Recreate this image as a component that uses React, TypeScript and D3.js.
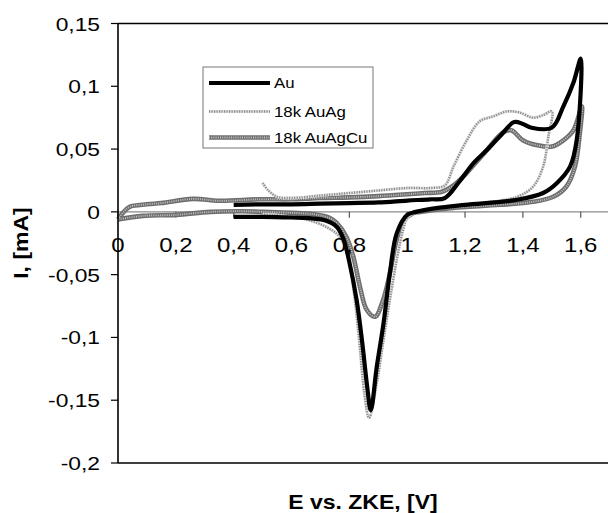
import React from "react";
import * as d3 from "d3";

// ---- data (E in V, I in mA), in scan order ----
const auScan: [number, number][] = [
  [0.40, 0.0055], [0.50, 0.006], [0.60, 0.006], [0.70, 0.0065], [0.80, 0.007], [0.90, 0.0075],
  [1.00, 0.009], [1.08, 0.010], [1.13, 0.011], [1.18, 0.024], [1.23, 0.039], [1.27, 0.048],
  [1.32, 0.060], [1.37, 0.0715], [1.40, 0.070], [1.43, 0.067], [1.50, 0.067], [1.54, 0.084],
  [1.575, 0.103], [1.60, 0.122],
  [1.586, 0.057], [1.563, 0.036], [1.518, 0.023], [1.47, 0.015], [1.38, 0.0096], [1.2, 0.0056],
  [1.1, 0.003], [1.03, 0.0], [1.0, -0.0024], [0.964, -0.017], [0.94, -0.049], [0.918, -0.089],
  [0.895, -0.123], [0.874, -0.158], [0.862, -0.14], [0.845, -0.105], [0.825, -0.07], [0.80, -0.04],
  [0.78, -0.022], [0.757, -0.012], [0.72, -0.007], [0.66, -0.005], [0.60, -0.0045], [0.5, -0.004],
  [0.4, -0.004],
];

const auAgScan: [number, number][] = [
  [0.50, 0.023], [0.52, 0.017], [0.55, 0.012], [0.60, 0.011], [0.70, 0.013], [0.80, 0.015],
  [0.90, 0.017], [1.00, 0.019], [1.08, 0.019], [1.13, 0.021], [1.16, 0.036], [1.206, 0.057],
  [1.25, 0.072], [1.297, 0.076], [1.345, 0.080], [1.39, 0.079], [1.435, 0.075], [1.47, 0.077],
  [1.50, 0.080],
  [1.488, 0.060], [1.47, 0.036], [1.435, 0.020], [1.38, 0.012], [1.263, 0.007], [1.15, 0.004],
  [1.03, 0.0], [1.0, -0.005], [0.986, -0.014], [0.964, -0.038], [0.94, -0.070], [0.918, -0.102],
  [0.895, -0.136], [0.868, -0.164], [0.852, -0.145], [0.835, -0.105], [0.818, -0.068],
  [0.795, -0.036], [0.767, -0.020], [0.72, -0.012], [0.65, -0.006], [0.57, -0.003], [0.50, -0.002],
];

const auAgCuScan: [number, number][] = [
  [0.0, -0.006], [0.02, 0.0], [0.04, 0.004], [0.10, 0.006], [0.15, 0.007], [0.26, 0.0103],
  [0.35, 0.0088], [0.49, 0.010], [0.60, 0.010], [0.70, 0.011], [0.80, 0.0115], [0.90, 0.0125],
  [1.0, 0.014], [1.06, 0.015], [1.12, 0.016], [1.16, 0.021], [1.206, 0.031], [1.24, 0.040],
  [1.275, 0.049], [1.33, 0.063], [1.36, 0.065], [1.40, 0.057], [1.45, 0.053], [1.50, 0.052],
  [1.54, 0.057], [1.575, 0.065], [1.604, 0.084],
  [1.597, 0.063], [1.58, 0.036], [1.55, 0.020], [1.505, 0.012], [1.435, 0.008], [1.32, 0.0056],
  [1.15, 0.003], [1.045, 0.0], [1.02, -0.001], [0.986, -0.008], [0.964, -0.022], [0.94, -0.049],
  [0.917, -0.070], [0.889, -0.0835], [0.86, -0.078], [0.837, -0.060], [0.814, -0.036],
  [0.79, -0.020], [0.757, -0.009], [0.733, -0.005], [0.68, -0.002], [0.60, -0.0008], [0.50, 0.0],
  [0.43, 0.0005], [0.32, 0.0], [0.20, -0.0024], [0.087, -0.0032], [0.0, -0.006],
];

const seriesNames = ["Au", "18k AuAg", "18k AuAgCu"];
const xTicks = [0, 0.2, 0.4, 0.6, 0.8, 1.0, 1.2, 1.4, 1.6];
const xTickLabels = ["0", "0,2", "0,4", "0,6", "0,8", "1", "1,2", "1,4", "1,6"];
const yTicks = [-0.2, -0.15, -0.1, -0.05, 0, 0.05, 0.1, 0.15];
const yTickLabels = ["-0,2", "-0,15", "-0,1", "-0,05", "0", "0,05", "0,1", "0,15"];
const xTitle = "E vs. ZKE, [V]";
const yTitle = "I, [mA]";

const FONT = "'Liberation Sans', Arial, Helvetica, sans-serif";
const SX = 1.2;

export default function App() {
  const x = d3.scaleLinear().domain([0, 1.8]).range([118, 118 + 289.2 * 1.8]);
  const y = d3.scaleLinear().domain([-0.2, 0.15]).range([463, 23.5]);
  const line = d3
    .line<[number, number]>()
    .x((d) => x(d[0]))
    .y((d) => y(d[1]))
    .curve(d3.curveCatmullRom.alpha(0.5));

  const x0 = x(0);
  const x1 = x(1.8);
  const yTop = y(0.15);
  const yBot = y(-0.2);
  const yZero = y(0);

  const drawAu = (d: string, key: string) => (
    <path key={key} d={d} fill="none" stroke="#000" strokeWidth={4.2} strokeLinejoin="round" />
  );
  const drawAuAg = (d: string, key: string) => (
    <g key={key}>
      <path d={d} fill="none" stroke="#e2e2e2" strokeWidth={3} strokeLinejoin="round" />
      <path d={d} fill="none" stroke="#8c8c8c" strokeWidth={2.4} strokeDasharray="1.2,1.3" strokeLinejoin="round" />
    </g>
  );
  const drawAuAgCu = (d: string, key: string) => (
    <g key={key}>
      <path d={d} fill="none" stroke="#6e6e6e" strokeWidth={4.6} strokeLinejoin="round" />
      <path d={d} fill="none" stroke="#c4c4c4" strokeWidth={1.8} strokeDasharray="1,1.2" strokeLinejoin="round" />
    </g>
  );

  const lg = { left: 203, top: 67, right: 373, bottom: 148 };
  const legendRows = [
    { name: seriesNames[0], y: 83, draw: drawAu },
    { name: seriesNames[1], y: 111.5, draw: drawAuAg },
    { name: seriesNames[2], y: 137.5, draw: drawAuAgCu },
  ];

  return (
    <svg
      width={608}
      height={513}
      style={{ position: "absolute", left: 0, top: 0, background: "#fff" }}
      fontFamily={FONT}
    >
      <rect x={0} y={0} width={608} height={513} fill="#fff" />
      {/* frame */}
      <line x1={x0} x2={x1} y1={yTop} y2={yTop} stroke="#000" strokeWidth={1.5} />
      <line x1={x0} x2={x1} y1={yBot} y2={yBot} stroke="#000" strokeWidth={1.5} />
      <line x1={x1} x2={x1} y1={yTop} y2={yBot} stroke="#000" strokeWidth={1.5} />

      {/* x axis at zero */}
      <line x1={x0} x2={x1} y1={yZero} y2={yZero} stroke="#8a8a8a" strokeWidth={1.2} />
      {xTicks.map((t) => (
        <line key={"xt" + t} x1={x(t)} x2={x(t)} y1={yZero} y2={yZero + 6} stroke="#555" strokeWidth={1.2} />
      ))}

      {/* series */}
      {drawAuAgCu(line(auAgCuScan) || "", "s3")}
      {drawAuAg(line(auAgScan) || "", "s2")}
      {drawAu(line(auScan) || "", "s1")}

      {/* y axis */}
      <line x1={x0} x2={x0} y1={yTop} y2={yBot} stroke="#000" strokeWidth={1.6} />
      {yTicks.map((t) => (
        <line key={"yt" + t} x1={x0 - 7} x2={x0} y1={y(t)} y2={y(t)} stroke="#000" strokeWidth={1.2} />
      ))}
      {yTicks.map((t, i) => (
        <text
          key={"yl" + t}
          transform={`translate(${x0 - 18},${y(t) + 7}) scale(${SX},1)`}
          textAnchor="end"
          fontSize={19}
          fill="#000"
        >
          {yTickLabels[i]}
        </text>
      ))}
      {xTicks.map((t, i) => (
        <text
          key={"xl" + t}
          transform={`translate(${x(t)},${yZero + 40}) scale(${SX},1)`}
          textAnchor="middle"
          fontSize={20}
          fill="#000"
        >
          {xTickLabels[i]}
        </text>
      ))}

      {/* titles */}
      <text
        transform={`translate(363,509) scale(1.15,1)`}
        textAnchor="middle"
        fontSize={20}
        fontWeight="bold"
        fill="#000"
      >
        {xTitle}
      </text>
      <text
        transform={`translate(28,243) rotate(-90) scale(1.15,1)`}
        textAnchor="middle"
        fontSize={20}
        fontWeight="bold"
        fill="#000"
      >
        {yTitle}
      </text>

      {/* legend */}
      <rect
        x={lg.left}
        y={lg.top}
        width={lg.right - lg.left}
        height={lg.bottom - lg.top}
        fill="#fff"
        stroke="#777"
        strokeWidth={1}
      />
      {legendRows.map((r, i) => (
        <g key={"lg" + i}>
          {r.draw(`M209,${r.y}L270,${r.y}`, "lgl" + i)}
          <text
            transform={`translate(274,${r.y + 5}) scale(${SX},1)`}
            fontSize={14}
            fill="#000"
          >
            {r.name}
          </text>
        </g>
      ))}
    </svg>
  );
}
